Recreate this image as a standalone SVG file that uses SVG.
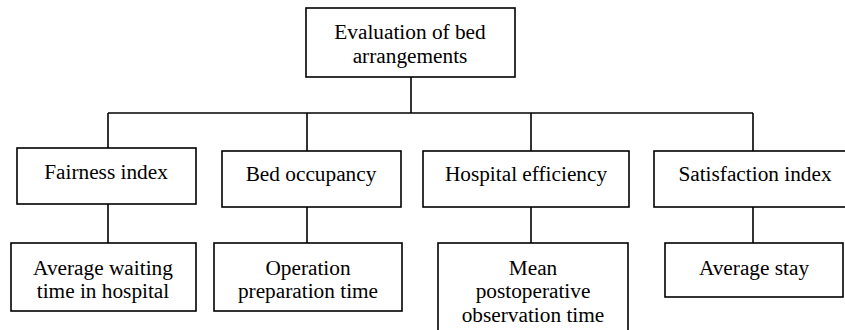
<svg xmlns="http://www.w3.org/2000/svg" width="845" height="330" viewBox="0 0 845 330">
<style>
rect.b{fill:#fff;stroke:#000;stroke-width:1.6}
#connectors line{stroke:#000;stroke-width:1.6}
text{font-size:21.3px;fill:#000;text-anchor:middle}
</style>
<rect width="845" height="330" fill="#fff"/>
<g id="connectors">
<line x1="411" y1="77" x2="411" y2="113"/>
<line x1="108" y1="113" x2="753" y2="113"/>
<line x1="108" y1="113" x2="108" y2="148"/>
<line x1="307" y1="113" x2="307" y2="151"/>
<line x1="531" y1="113" x2="531" y2="151"/>
<line x1="753" y1="113" x2="753" y2="151"/>
<line x1="108" y1="204" x2="108" y2="243"/>
<line x1="307" y1="207" x2="307" y2="243"/>
<line x1="531" y1="207" x2="531" y2="243"/>
<line x1="753" y1="207" x2="753" y2="243"/>
</g>
<g font-family="Liberation Serif, DejaVu Serif, serif">
<g id="root">
<rect class="b" x="306" y="8" width="209" height="69"/>
<text x="410" y="39">Evaluation of bed</text>
<text x="410" y="63">arrangements</text>
</g>
<g id="fairness">
<rect class="b" x="17" y="148" width="179" height="56"/>
<text x="106" y="179">Fairness index</text>
</g>
<g id="occupancy">
<rect class="b" x="222" y="151" width="179" height="56"/>
<text x="311" y="181">Bed occupancy</text>
</g>
<g id="efficiency">
<rect class="b" x="423" y="151" width="206" height="56"/>
<text x="526" y="181">Hospital efficiency</text>
</g>
<g id="satisfaction">
<rect class="b" x="654" y="151" width="200" height="56"/>
<text x="755" y="181">Satisfaction index</text>
</g>
<g id="waiting">
<rect class="b" x="11" y="243" width="185" height="68"/>
<text x="103" y="275">Average waiting</text>
<text x="103" y="298">time in hospital</text>
</g>
<g id="preparation">
<rect class="b" x="214" y="243" width="188" height="68"/>
<text x="308" y="275">Operation</text>
<text x="308" y="298">preparation time</text>
</g>
<g id="observation">
<rect class="b" x="438" y="243" width="190" height="100"/>
<text x="533" y="275">Mean</text>
<text x="533" y="298">postoperative</text>
<text x="533" y="322">observation time</text>
</g>
<g id="stay">
<rect class="b" x="665" y="243" width="178" height="54"/>
<text x="754" y="275">Average stay</text>
</g>
</g>
</svg>
